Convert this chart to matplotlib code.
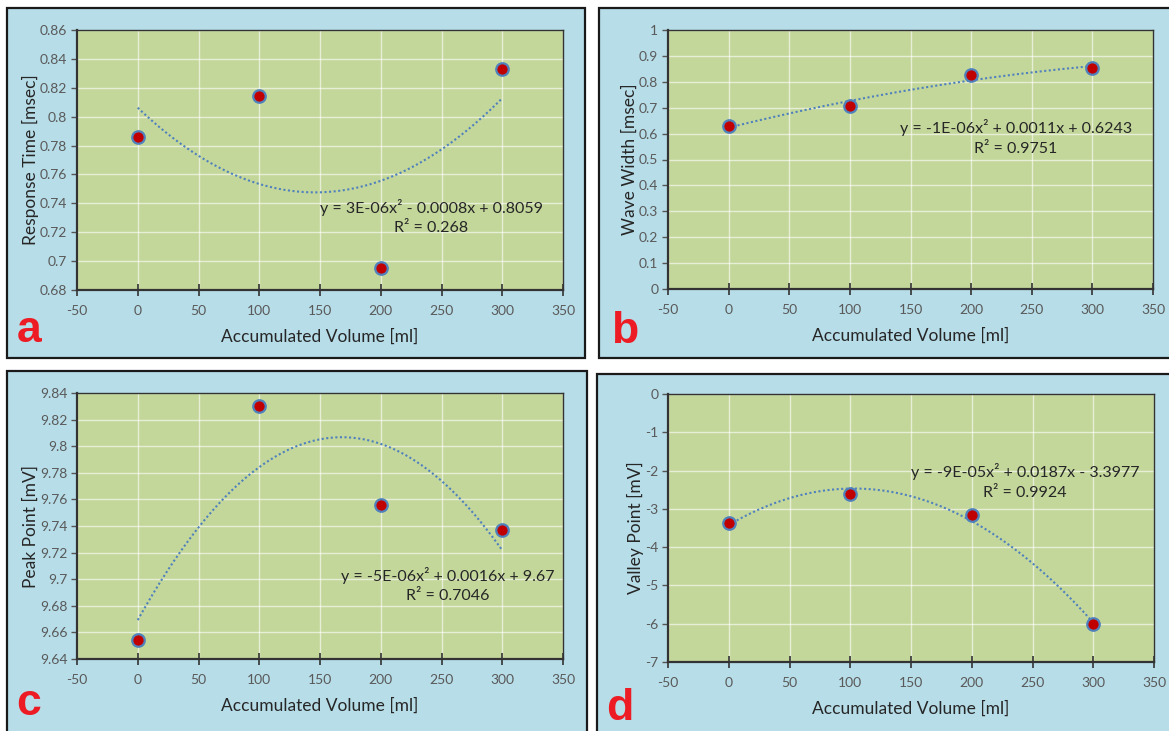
import numpy as np
import matplotlib
matplotlib.use("Agg")
import matplotlib.pyplot as plt
from matplotlib.patches import Rectangle

# volumes at which each measurement was taken
volume = [0, 100, 200, 300]

response_time = [0.786, 0.814, 0.695, 0.833]
wave_width = [0.630, 0.706, 0.826, 0.854]
peak_point = [9.654, 9.830, 9.756, 9.737]
valley_point = [-3.37, -2.62, -3.17, -6.02]

eq_a = ["y = 3E-06x\u00b2 - 0.0008x + 0.8059", "R\u00b2 = 0.268"]
eq_b = ["y = -1E-06x\u00b2 + 0.0011x + 0.6243", "R\u00b2 = 0.9751"]
eq_c = ["y = -5E-06x\u00b2 + 0.0016x + 9.67", "R\u00b2 = 0.7046"]
eq_d = ["y = -9E-05x\u00b2 + 0.0187x - 3.3977", "R\u00b2 = 0.9924"]

W, H = 1169, 731
PANEL_BG = "#b7dde8"
PLOT_BG = "#c4d79b"
TICK_COL = "#595959"
TEXT_COL = "#262626"

plt.rcParams["font.family"] = ["Lato", "DejaVu Sans"]
plt.rcParams["axes.unicode_minus"] = False

fig = plt.figure(figsize=(W / 100, H / 100), dpi=100)
fig.patch.set_facecolor("white")


def px_rect(x0, y0, x1, y1):
    return [x0 / W, 1 - y1 / H, (x1 - x0) / W, (y1 - y0) / H]


def panel_box(x0, y0, x1, y1):
    r = Rectangle((x0 / W, 1 - y1 / H), (x1 - x0) / W, (y1 - y0) / H,
                  transform=fig.transFigure, facecolor=PANEL_BG,
                  edgecolor="#1a1a1a", linewidth=1.6, zorder=-5)
    fig.patches.append(r)


def draw_panel(rect, y, ylim, ystep, ylabel, eq, eq_pos, letter, letter_pos):
    ax = fig.add_axes(px_rect(*rect))
    ax.set_zorder(2)
    ax.set_facecolor(PLOT_BG)
    ax.set_xlim(-50, 350)
    ax.set_ylim(*ylim)
    ax.set_xticks(np.arange(-50, 351, 50))
    ax.set_yticks(np.arange(ylim[0], ylim[1] + ystep / 2, ystep))
    ax.yaxis.set_major_formatter(matplotlib.ticker.FuncFormatter(
        lambda v, _: f"{v:.10g}" if abs(v) > 1e-9 else "0"))
    ax.grid(True, color="white", linewidth=1.0, alpha=0.6)
    ax.set_axisbelow(True)
    for s in ax.spines.values():
        s.set_color("#333333")
        s.set_linewidth(1.0)
    ax.spines["left"].set_linewidth(1.6)
    ax.spines["bottom"].set_linewidth(1.6)
    ax.tick_params(axis="x", direction="inout", length=8, width=1.2,
                   colors="#333333", labelcolor=TICK_COL, labelsize=10, pad=7)
    ax.tick_params(axis="y", direction="out", length=4, width=1.0,
                   colors="#555555", labelcolor=TICK_COL, labelsize=10, pad=3)

    # second order trend line through the measured points
    coef = np.polyfit(volume, y, 2)
    xs = np.linspace(volume[0], volume[-1], 200)
    ax.plot(xs, np.polyval(coef, xs), linestyle=(0, (1, 1.2)), color="#4f81bd",
            linewidth=1.5, zorder=2)
    ax.plot(volume, y, "o", markersize=9, markerfacecolor="#c00000",
            markeredgecolor="#4f81bd", markeredgewidth=1.6, zorder=3,
            clip_on=False)

    ax.set_xlabel("Accumulated Volume [ml]", fontsize=12.5, color=TEXT_COL,
                  labelpad=8)
    ax.set_ylabel(ylabel, fontsize=12.5, color=TEXT_COL, labelpad=1)

    ex, ey = eq_pos
    ax.text(ex / W, 1 - ey / H, eq[0], ha="center", va="center",
            fontsize=11.5, color=TEXT_COL, transform=fig.transFigure, zorder=5)
    ax.text(ex / W, 1 - (ey + 21) / H, eq[1], ha="center", va="center",
            fontsize=11.5, color=TEXT_COL, transform=fig.transFigure, zorder=5)

    lx, ly = letter_pos
    fig.text(lx / W, 1 - ly / H, letter, ha="center", va="baseline",
             fontsize=32, fontweight="bold", color="#ed1c24",
             family="Liberation Sans")
    return ax


panel_box(7, 8, 585, 358)
panel_box(599, 8, 1175, 358)
panel_box(7, 371, 587, 738)
panel_box(597, 374, 1175, 738)

draw_panel((77, 30, 563, 290), response_time, (0.68, 0.86), 0.02,
           "Response Time [msec]", eq_a, (431, 207), "a", (29, 342))
draw_panel((668, 30, 1153, 289), wave_width, (0, 1.0), 0.1,
           "Wave Width [msec]", eq_b, (1016, 128), "b", (625, 343))
draw_panel((77, 393, 563, 659), peak_point, (9.64, 9.84), 0.02,
           "Peak Point [mV]", eq_c, (448, 575), "c", (29, 715))
draw_panel((668, 394, 1154, 662), valley_point, (-7, 0), 1,
           "Valley Point [mV]", eq_d, (1025, 472), "d", (620, 720))

fig.savefig("out.png", dpi=100, facecolor=fig.get_facecolor())
